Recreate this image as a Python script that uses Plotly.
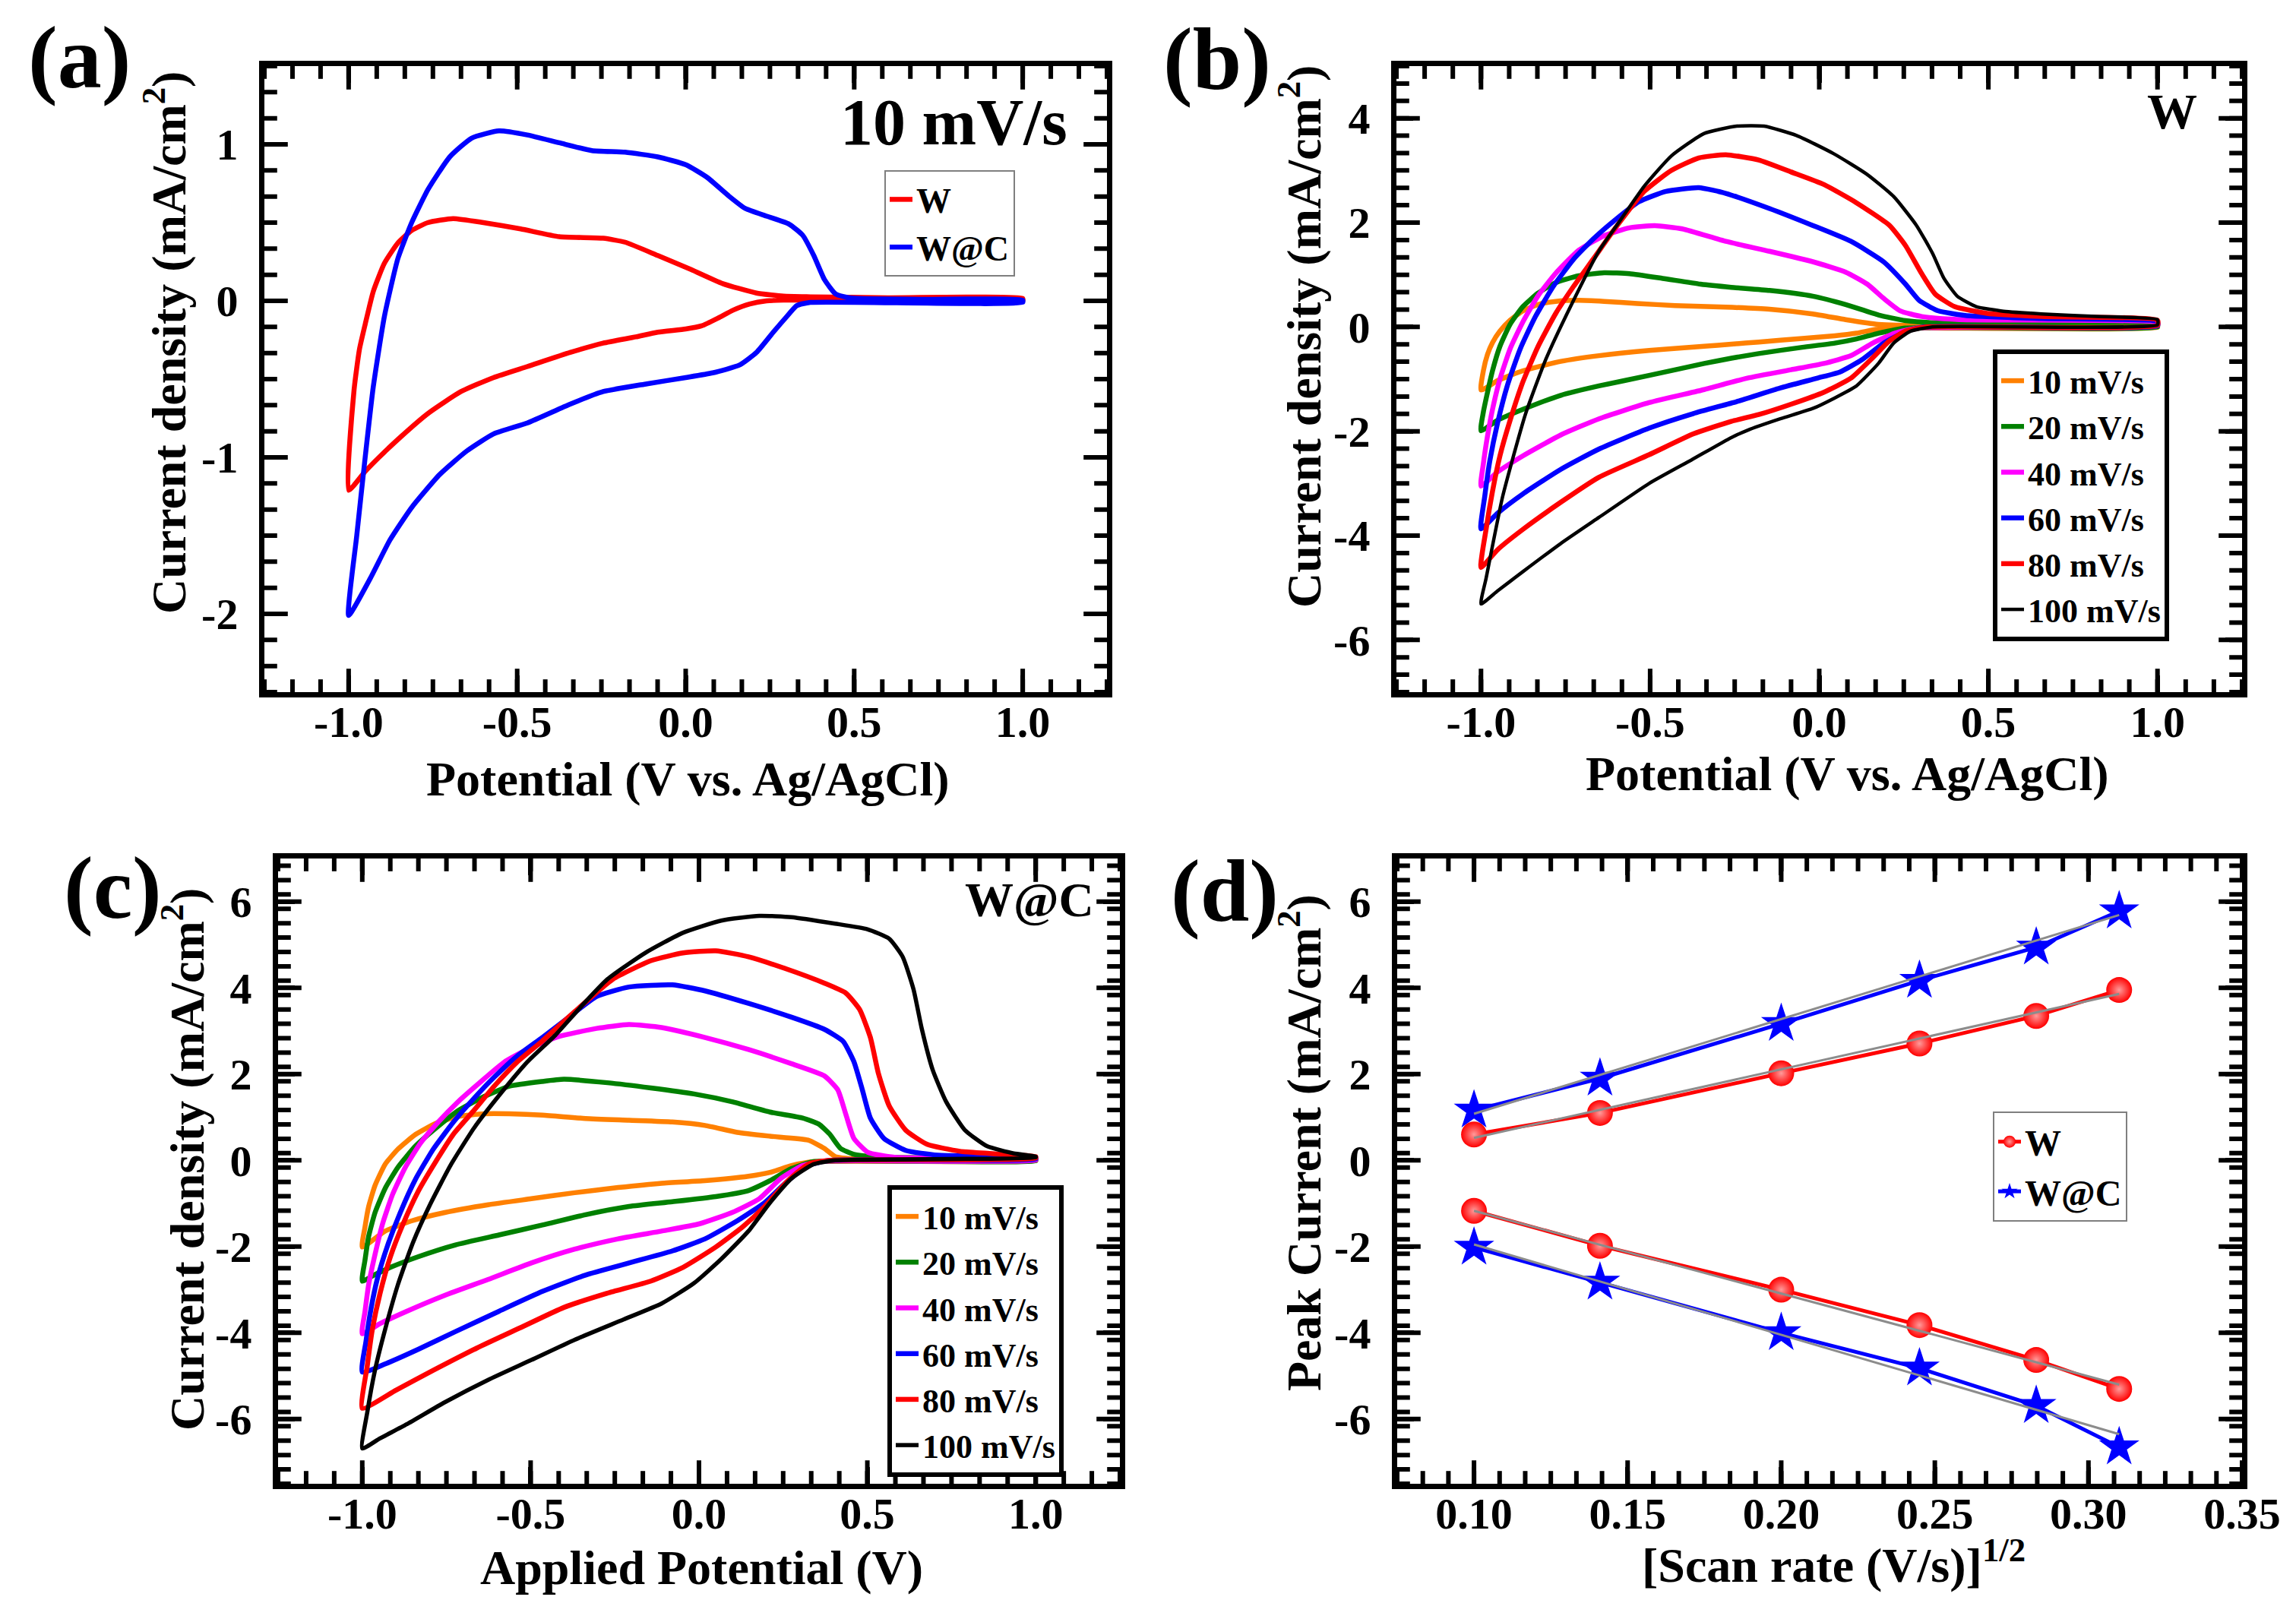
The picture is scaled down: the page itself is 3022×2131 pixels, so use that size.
import numpy as np
import plotly.graph_objects as go

FONT = "Liberation Serif"

# ---- (a) 10 mV/s : W vs W@C  (anodic sweep -1 -> 1, then cathodic 1 -> -1)
A_W_X = [-1.0, -0.984, -0.968, -0.951, -0.927, -0.894, -0.854, -0.813, -0.765, -0.69, -0.60, -0.49,
         -0.375, -0.245, -0.18, -0.083, 0.016, 0.11, 0.21, 0.29, 0.37, 0.6, 1.0,
         1.0, 0.37, 0.29, 0.24, 0.19, 0.14, 0.096, 0.047, 0.0, -0.083, -0.148, -0.245, -0.343,
         -0.47, -0.57, -0.667, -0.765, -0.846, -0.91, -0.951, -1.0]
A_W_Y = [-1.21, -0.57, -0.31, -0.15, 0.06, 0.24, 0.37, 0.45, 0.50, 0.526, 0.50, 0.46,
         0.41, 0.40, 0.375, 0.29, 0.2, 0.11, 0.05, 0.03, 0.026, 0.02, 0.016,
         0.0, 0.005, 0.005, 0.0, -0.02, -0.06, -0.11, -0.16, -0.18, -0.2, -0.23, -0.27, -0.33,
         -0.42, -0.49, -0.58, -0.72, -0.87, -1.0, -1.09, -1.21]
A_WC_X = [-1.0, -0.976, -0.951, -0.927, -0.894, -0.854, -0.813, -0.765, -0.70, -0.635, -0.554, -0.47,
          -0.375, -0.278, -0.18, -0.083, 0.0, 0.063, 0.128, 0.177, 0.242, 0.307, 0.347, 0.38,
          0.412, 0.445, 0.49, 0.7, 1.0,
          1.0, 0.37, 0.33, 0.30, 0.26, 0.21, 0.16, 0.08, 0.0, -0.115, -0.245, -0.343, -0.47,
          -0.57, -0.65, -0.73, -0.813, -0.878, -0.935, -1.0]
A_WC_Y = [-2.01, -1.5, -1.0, -0.55, -0.1, 0.27, 0.5, 0.71, 0.92, 1.04, 1.086, 1.06,
          1.01, 0.96, 0.95, 0.92, 0.87, 0.79, 0.67, 0.59, 0.54, 0.49, 0.42, 0.29,
          0.135, 0.044, 0.018, 0.01, 0.005,
          -0.01, -0.01, -0.03, -0.1, -0.2, -0.33, -0.41, -0.46, -0.49, -0.53, -0.58, -0.66, -0.78,
          -0.85, -0.96, -1.11, -1.32, -1.53, -1.77, -2.01]

# ---- (b) W at different scan rates
B10_X = [-1.0, -0.993, -0.981, -0.966, -0.944, -0.914, -0.876, -0.831, -0.779, -0.711, -0.636, -0.538,
         -0.426, -0.276, -0.147, -0.019, 0.078, 0.175, 0.335, 1.0,
         1.0, 0.255, 0.175, 0.11, 0.046, -0.05, -0.179, -0.26, -0.34, -0.503, -0.651, -0.764,
         -0.876, -0.951, -1.0]
B10_Y = [-1.21, -0.84, -0.53, -0.3, -0.08, 0.13, 0.31, 0.43, 0.49, 0.51, 0.49, 0.45,
         0.41, 0.38, 0.34, 0.25, 0.14, 0.05, 0.02, 0.02,
         -0.01, -0.02, -0.04, -0.12, -0.17, -0.22, -0.29, -0.33, -0.37, -0.45, -0.55, -0.66,
         -0.84, -1.03, -1.21]
B20_X = [-1.0, -0.993, -0.981, -0.966, -0.944, -0.914, -0.876, -0.831, -0.779, -0.711, -0.636, -0.561,
         -0.463, -0.351, -0.26, -0.147, -0.019, 0.078, 0.175, 0.255, 0.335, 1.0,
         1.0, 0.255, 0.175, 0.11, 0.046, -0.05, -0.179, -0.26, -0.34, -0.503, -0.651, -0.764,
         -0.876, -0.951, -1.0]
B20_Y = [-1.99, -1.63, -1.26, -0.84, -0.37, 0.05, 0.39, 0.65, 0.85, 0.98, 1.04, 1.02,
         0.93, 0.82, 0.76, 0.7, 0.59, 0.43, 0.23, 0.12, 0.08, 0.05,
         0.0, -0.02, -0.12, -0.23, -0.31, -0.39, -0.51, -0.6, -0.7, -0.93, -1.13, -1.31,
         -1.58, -1.79, -1.99]
B40_X = [-1.0, -0.993, -0.981, -0.966, -0.944, -0.914, -0.876, -0.831, -0.779, -0.711, -0.636, -0.561,
         -0.486, -0.405, -0.276, -0.147, -0.019, 0.078, 0.142, 0.19, 0.239, 0.303, 0.416, 1.0,
         1.0, 0.29, 0.223, 0.158, 0.094, 0.014, -0.083, -0.212, -0.34, -0.503, -0.651, -0.764,
         -0.876, -0.951, -1.0]
B40_Y = [-3.05, -2.62, -2.1, -1.58, -1.0, -0.42, 0.1, 0.6, 1.03, 1.47, 1.75, 1.9,
         1.94, 1.88, 1.64, 1.45, 1.25, 1.05, 0.82, 0.55, 0.31, 0.2, 0.14, 0.08,
         0.02, -0.02, -0.12, -0.31, -0.55, -0.7, -0.82, -0.98, -1.2, -1.45, -1.76, -2.07,
         -2.47, -2.78, -3.05]
B60_X = [-1.0, -0.989, -0.974, -0.951, -0.921, -0.884, -0.839, -0.786, -0.726, -0.666, -0.6, -0.533,
         -0.453, -0.356, -0.276, -0.147, -0.021, 0.094, 0.19, 0.255, 0.295, 0.351, 0.432, 0.657, 1.0,
         1.0, 0.31, 0.255, 0.19, 0.126, 0.062, -0.005, -0.115, -0.244, -0.372, -0.503, -0.651,
         -0.764, -0.876, -0.951, -1.0]
B60_Y = [-3.87, -3.25, -2.57, -1.84, -1.1, -0.42, 0.2, 0.78, 1.3, 1.7, 2.07, 2.4,
         2.6, 2.67, 2.56, 2.27, 1.95, 1.64, 1.25, 0.82, 0.51, 0.31, 0.22, 0.16, 0.1,
         0.02, 0.0, -0.09, -0.31, -0.63, -0.86, -0.98, -1.17, -1.43, -1.66, -1.94, -2.34,
         -2.73, -3.2, -3.57, -3.87]
B80_X = [-1.0, -0.985, -0.966, -0.944, -0.914, -0.876, -0.831, -0.779, -0.726, -0.666, -0.607, -0.517,
         -0.437, -0.356, -0.276, -0.179, -0.083, 0.014, 0.11, 0.207, 0.255, 0.303, 0.343, 0.4,
         0.496, 0.657, 1.0,
         1.0, 0.32, 0.255, 0.207, 0.158, 0.094, 0.014, -0.083, -0.179, -0.26, -0.372, -0.503,
         -0.651, -0.764, -0.876, -0.951, -1.0]
B80_Y = [-4.61, -3.88, -3.15, -2.47, -1.79, -1.05, -0.37, 0.26, 0.78, 1.32, 1.86, 2.6,
         3.0, 3.24, 3.3, 3.2, 2.97, 2.73, 2.38, 1.95, 1.56, 1.02, 0.63, 0.39,
         0.26, 0.2, 0.13,
         0.03, 0.0, -0.08, -0.27, -0.59, -0.98, -1.25, -1.48, -1.68, -1.81, -2.05, -2.45,
         -2.88, -3.36, -3.88, -4.27, -4.61]
B100_X = [-1.0, -0.985, -0.936, -0.869, -0.809, -0.734, -0.651, -0.595, -0.517, -0.437, -0.34, -0.244,
          -0.163, -0.067, 0.043, 0.14, 0.22, 0.287, 0.335, 0.368, 0.408, 0.464, 0.545, 0.657, 0.818, 1.0,
          1.0, 0.335, 0.27, 0.22, 0.175, 0.11, 0.043, -0.018, -0.115, -0.212, -0.26, -0.378,
          -0.503, -0.651, -0.764, -0.876, -0.951, -1.0]
B100_Y = [-5.31, -4.82, -3.25, -1.68, -0.63, 0.41, 1.46, 1.98, 2.7, 3.28, 3.71, 3.85,
          3.85, 3.67, 3.32, 2.93, 2.5, 1.95, 1.41, 0.94, 0.59, 0.39, 0.3, 0.25, 0.2, 0.14,
          0.04, 0.0, -0.08, -0.31, -0.7, -1.13, -1.37, -1.56, -1.76, -1.98, -2.12, -2.55,
          -3.0, -3.65, -4.15, -4.69, -5.06, -5.31]

# ---- (c) W@C at different scan rates
C10_X = [-1.0, -0.992, -0.981, -0.962, -0.932, -0.894, -0.842, -0.781, -0.714, -0.638, -0.563, -0.465,
         -0.337, -0.208, -0.079, 0.018, 0.114, 0.211, 0.324, 0.372, 0.404, 0.469, 1.0,
         1.0, 0.34, 0.275, 0.211, 0.147, 0.018, -0.111, -0.24, -0.369, -0.498, -0.626, -0.755,
         -0.852, -0.932, -1.0]
C10_Y = [-2.01, -1.55, -1.07, -0.58, -0.09, 0.26, 0.6, 0.86, 1.02, 1.08, 1.08, 1.05,
         0.97, 0.93, 0.89, 0.81, 0.65, 0.56, 0.47, 0.28, 0.09, 0.03, 0.01,
         -0.01, -0.03, -0.12, -0.28, -0.37, -0.47, -0.53, -0.63, -0.75, -0.89, -1.03, -1.21,
         -1.4, -1.64, -2.01]
C20_X = [-1.0, -0.992, -0.981, -0.962, -0.932, -0.894, -0.842, -0.781, -0.714, -0.638, -0.563, -0.465,
         -0.401, -0.272, -0.143, -0.015, 0.098, 0.211, 0.308, 0.356, 0.388, 0.42, 0.46, 0.549, 1.0,
         1.0, 0.34, 0.275, 0.211, 0.147, 0.05, -0.079, -0.208, -0.337, -0.465, -0.594, -0.723,
         -0.836, -0.916, -0.965, -1.0]
C20_Y = [-2.8, -2.32, -1.76, -1.21, -0.65, -0.16, 0.33, 0.75, 1.16, 1.48, 1.72, 1.83,
         1.88, 1.8, 1.68, 1.54, 1.36, 1.12, 0.98, 0.84, 0.61, 0.28, 0.14, 0.07, 0.03,
         -0.01, -0.03, -0.19, -0.47, -0.7, -0.84, -0.96, -1.07, -1.26, -1.5, -1.73, -1.96,
         -2.24, -2.48, -2.66, -2.8]
C40_X = [-1.0, -0.992, -0.981, -0.962, -0.94, -0.91, -0.872, -0.827, -0.774, -0.714, -0.653, -0.578,
         -0.503, -0.417, -0.304, -0.208, -0.111, 0.018, 0.147, 0.275, 0.372, 0.412, 0.436, 0.46,
         0.501, 0.581, 1.0,
         1.0, 0.372, 0.308, 0.243, 0.179, 0.098, 0.002, -0.111, -0.24, -0.369, -0.498, -0.626,
         -0.755, -0.868, -0.948, -1.0]
C40_Y = [-4.02, -3.51, -2.88, -2.18, -1.48, -0.79, -0.16, 0.4, 0.89, 1.37, 1.79, 2.28,
         2.6, 2.87, 3.06, 3.15, 3.08, 2.85, 2.57, 2.24, 1.96, 1.64, 1.07, 0.51,
         0.19, 0.07, 0.03,
         0.0, -0.02, -0.12, -0.42, -0.89, -1.21, -1.47, -1.64, -1.82, -2.06, -2.38, -2.76,
         -3.13, -3.5, -3.79, -4.02]
C60_X = [-1.0, -0.989, -0.974, -0.955, -0.925, -0.887, -0.842, -0.789, -0.729, -0.668, -0.608, -0.54,
         -0.465, -0.39, -0.304, -0.208, -0.079, 0.018, 0.147, 0.275, 0.372, 0.428, 0.46, 0.485,
         0.509, 0.549, 0.614, 0.71, 1.0,
         1.0, 0.388, 0.324, 0.259, 0.195, 0.114, 0.018, -0.079, -0.208, -0.337, -0.465, -0.594,
         -0.723, -0.836, -0.932, -1.0]
C60_Y = [-4.91, -4.2, -3.44, -2.74, -1.98, -1.21, -0.44, 0.26, 0.89, 1.44, 1.93, 2.42,
         2.85, 3.3, 3.8, 4.02, 4.07, 3.93, 3.64, 3.32, 3.04, 2.76, 2.29, 1.64,
         0.98, 0.51, 0.23, 0.12, 0.07,
         0.03, 0.0, -0.12, -0.51, -0.98, -1.4, -1.82, -2.1, -2.38, -2.66, -3.04, -3.5,
         -3.97, -4.39, -4.72, -4.91]
C80_X = [-1.0, -0.985, -0.97, -0.947, -0.917, -0.879, -0.834, -0.781, -0.729, -0.668, -0.608, -0.54,
         -0.465, -0.369, -0.256, -0.143, -0.047, 0.05, 0.147, 0.259, 0.372, 0.436, 0.477, 0.509,
         0.533, 0.565, 0.614, 0.678, 0.775, 0.903, 1.0,
         1.0, 0.388, 0.324, 0.259, 0.195, 0.13, 0.05, -0.047, -0.143, -0.272, -0.401, -0.53,
         -0.659, -0.787, -0.9, -1.0]
C80_Y = [-5.75, -4.76, -3.92, -3.08, -2.25, -1.48, -0.72, -0.02, 0.61, 1.16, 1.72, 2.28,
         2.77, 3.45, 4.2, 4.63, 4.81, 4.86, 4.72, 4.44, 4.11, 3.88, 3.5, 2.85,
         2.01, 1.26, 0.7, 0.37, 0.21, 0.14, 0.09,
         0.05, 0.0, -0.09, -0.51, -1.07, -1.54, -2.01, -2.48, -2.8, -3.08, -3.41, -3.88,
         -4.35, -4.86, -5.33, -5.75]
C100_X = [-1.0, -0.985, -0.962, -0.932, -0.894, -0.849, -0.797, -0.736, -0.668, -0.593, -0.51, -0.427,
          -0.352, -0.272, -0.16, -0.047, 0.066, 0.179, 0.275, 0.404, 0.5, 0.565, 0.605, 0.637,
          0.662, 0.694, 0.734, 0.79, 0.855, 0.935, 1.0,
          1.0, 0.404, 0.34, 0.275, 0.211, 0.147, 0.066, -0.015, -0.111, -0.224, -0.369, -0.498,
          -0.626, -0.755, -0.868, -0.948, -1.0]
C100_Y = [-6.68, -5.84, -4.86, -3.92, -2.88, -1.9, -1.0, -0.09, 0.75, 1.51, 2.28, 2.9,
          3.55, 4.2, 4.81, 5.28, 5.56, 5.67, 5.64, 5.49, 5.36, 5.14, 4.72, 3.97,
          3.04, 2.1, 1.36, 0.7, 0.33, 0.16, 0.09,
          0.07, 0.0, -0.09, -0.42, -0.98, -1.64, -2.29, -2.85, -3.32, -3.69, -4.16, -4.63,
          -5.09, -5.61, -6.12, -6.45, -6.68]

RATES = ["10 mV/s", "20 mV/s", "40 mV/s", "60 mV/s", "80 mV/s", "100 mV/s"]
RATE_COLORS = ["#ff8000", "#008000", "#ff00ff", "#0000ff", "#ff0000", "#000000"]

# ---- (d) peak current vs sqrt(scan rate)
D_X = [0.10, 0.141, 0.20, 0.245, 0.283, 0.31]
D_W_ANODIC = [0.6, 1.1, 2.02, 2.71, 3.35, 3.95]
D_WC_ANODIC = [1.16, 1.9, 3.17, 4.17, 4.94, 5.78]
D_W_CATHODIC = [-1.17, -1.98, -3.0, -3.82, -4.63, -5.3]
D_WC_CATHODIC = [-2.02, -2.83, -4.0, -4.82, -5.69, -6.65]
# linear fits (grey), end points
D_FIT_X = [0.10, 0.31]
D_W_ANODIC_FIT = [0.52, 3.86]
D_WC_ANODIC_FIT = [1.08, 5.69]
D_W_CATHODIC_FIT = [-1.17, -5.2]
D_WC_CATHODIC_FIT = [-1.95, -6.35]

# tick labels
CV_XTICKS = [-1.0, -0.5, 0.0, 0.5, 1.0]
CV_XTEXT = ["-1.0", "-0.5", "0.0", "0.5", "1.0"]
A_YTICKS = [-2, -1, 0, 1]
A_YTEXT = ["-2", "-1", "0", "1"]
B_YTICKS = [-6, -4, -2, 0, 2, 4]
B_YTEXT = ["-6", "-4", "-2", "0", "2", "4"]
C_YTICKS = [-6, -4, -2, 0, 2, 4, 6]
C_YTEXT = ["-6", "-4", "-2", "0", "2", "4", "6"]
D_XTICKS = [0.10, 0.15, 0.20, 0.25, 0.30, 0.35]
D_XTEXT = ["0.10", "0.15", "0.20", "0.25", "0.30", "0.35"]


fig = go.Figure()


def cv(x, y, color, name, n, legend, width=6.5):
    fig.add_trace(go.Scatter(
        x=x, y=y, mode="lines", name=name, legend=legend,
        xaxis="x" + n, yaxis="y" + n,
        line=dict(color=color, width=width, shape="spline", smoothing=0.5)))


cv(A_W_X, A_W_Y, "#ff0000", "W", "", "legend")
cv(A_WC_X, A_WC_Y, "#0000ff", "W@C", "", "legend")

b_curves = [(B10_X, B10_Y), (B20_X, B20_Y), (B40_X, B40_Y),
            (B60_X, B60_Y), (B80_X, B80_Y), (B100_X, B100_Y)]
c_curves = [(C10_X, C10_Y), (C20_X, C20_Y), (C40_X, C40_Y),
            (C60_X, C60_Y), (C80_X, C80_Y), (C100_X, C100_Y)]
for (x, y), name, col in zip(b_curves, RATES, RATE_COLORS):
    cv(x, y, col, name, "2", "legend2", 4.5 if col == "#000000" else 6.5)
for (x, y), name, col in zip(c_curves, RATES, RATE_COLORS):
    cv(x, y, col, name, "3", "legend3", 5.5 if col == "#000000" else 6.5)

# (d)
w_marker = dict(symbol="circle", size=34, color="#ff0000",
                gradient=dict(type="radial", color="#ff9a9a"), line=dict(width=0))
wc_marker = dict(symbol="star", size=40, color="#0000ff", line=dict(width=0))
for y, show in [(D_W_ANODIC, True), (D_W_CATHODIC, False)]:
    fig.add_trace(go.Scatter(x=D_X, y=y, mode="lines+markers", name="W", showlegend=show,
                             legend="legend4", legendgroup="W", xaxis="x4", yaxis="y4",
                             line=dict(color="#ff0000", width=5), marker=w_marker))
for y, show in [(D_WC_ANODIC, True), (D_WC_CATHODIC, False)]:
    fig.add_trace(go.Scatter(x=D_X, y=y, mode="lines+markers", name="W@C", showlegend=show,
                             legend="legend4", legendgroup="WC", xaxis="x4", yaxis="y4",
                             line=dict(color="#0000ff", width=5), marker=wc_marker))
for y in [D_W_ANODIC_FIT, D_WC_ANODIC_FIT, D_W_CATHODIC_FIT, D_WC_CATHODIC_FIT]:
    fig.add_trace(go.Scatter(x=D_FIT_X, y=y, mode="lines", showlegend=False,
                             xaxis="x4", yaxis="y4", line=dict(color="#8c8c8c", width=3)))


# Origin-style comb ticks on all four sides (major + 5 minor per interval),
# drawn as clipped line markers sitting on the frame
def comb(n, xr, yr, xmaj, ymaj, xstep, ystep):
    xs = np.arange(xr[0], xr[1] + xstep / 2, xstep)
    ys = np.arange(yr[0], yr[1] + ystep / 2, ystep)
    for vals, length in [(xs, 12), (xmaj, 22)]:
        vals = list(vals)
        fig.add_trace(go.Scatter(
            x=vals * 2, y=[yr[0]] * len(vals) + [yr[1]] * len(vals), mode="markers",
            xaxis="x" + n, yaxis="y" + n, showlegend=False, hoverinfo="skip",
            marker=dict(symbol="line-ns", size=2 * length, color="black",
                        line=dict(width=6, color="black"))))
    for vals, length in [(ys, 12), (ymaj, 22)]:
        vals = list(vals)
        fig.add_trace(go.Scatter(
            x=[xr[0]] * len(vals) + [xr[1]] * len(vals), y=vals * 2, mode="markers",
            xaxis="x" + n, yaxis="y" + n, showlegend=False, hoverinfo="skip",
            marker=dict(symbol="line-ew", size=2 * length, color="black",
                        line=dict(width=6, color="black"))))


CV_XR = [-1.25, 1.25]
A_YR, B_YR, C_YR, D_XR = [-2.5, 1.5], [-7, 5], [-7.5, 7], [0.075, 0.35]
comb("", CV_XR, A_YR, CV_XTICKS, A_YTICKS, 0.5 / 6, 1 / 6)
comb("2", CV_XR, B_YR, CV_XTICKS, B_YTICKS, 0.5 / 6, 2 / 6)
comb("3", CV_XR, C_YR, CV_XTICKS, C_YTICKS, 0.5 / 6, 2 / 6)
comb("4", D_XR, C_YR, D_XTICKS, C_YTICKS, 0.05 / 6, 2 / 6)


def tfont(size):
    return dict(family=FONT, size=size, color="black", weight="bold")


def axis(domain, rng, vals, text, anchor, lab_off):
    return dict(
        domain=domain, range=rng, anchor=anchor,
        tickmode="array", tickvals=vals, ticktext=text,
        ticks="inside", ticklen=22, tickwidth=6, tickcolor="black",
        showline=True, linewidth=7, linecolor="black", mirror="ticks",
        showgrid=False, zeroline=False, automargin=False,
        tickfont=tfont(58), ticklabelstandoff=lab_off)


W, H = 3022, 2131
XA = [340 / W, 1449 / W]
XB = [1830 / W, 2943 / W]
XC = [358 / W, 1466 / W]
XD = [1831 / W, 2943 / W]
YTOP = [1 - 903 / H, 1 - 79 / H]
YBOT = [1 - 1945 / H, 1 - 1122 / H]


def legend_box(x, y, border, bw, size):
    return dict(x=x / W, y=1 - y / H, xanchor="left", yanchor="top", bgcolor="white",
                bordercolor=border, borderwidth=bw, font=tfont(size),
                itemwidth=30, tracegroupgap=0)


fig.update_layout(
    width=W, height=H, margin=dict(l=0, r=0, t=0, b=0),
    paper_bgcolor="white", plot_bgcolor="white",
    xaxis=axis(XA, CV_XR, CV_XTICKS, CV_XTEXT, "y", -18),
    yaxis=axis(YTOP, A_YR, A_YTICKS, A_YTEXT, "x", 16),
    xaxis2=axis(XB, CV_XR, CV_XTICKS, CV_XTEXT, "y2", -18),
    yaxis2=axis(YTOP, B_YR, B_YTICKS, B_YTEXT, "x2", 16),
    xaxis3=axis(XC, CV_XR, CV_XTICKS, CV_XTEXT, "y3", -18),
    yaxis3=axis(YBOT, C_YR, C_YTICKS, C_YTEXT, "x3", 16),
    xaxis4=axis(XD, D_XR, D_XTICKS, D_XTEXT, "y4", -18),
    yaxis4=axis(YBOT, C_YR, C_YTICKS, C_YTEXT, "x4", 16),
    legend=legend_box(1156, 216, "#7f7f7f", 2, 46),
    legend2=legend_box(2615, 452, "black", 6, 44),
    legend3=legend_box(1160, 1552, "black", 6, 44),
    legend4=legend_box(2615, 1455, "#7f7f7f", 2, 48),
)

cd = "Current density (mA/cm<sup>2</sup>)"
# axis titles: (text, x, y, angle)
titles = [("Potential (V vs. Ag/AgCl)", 898, 1018, 0), ("Potential (V vs. Ag/AgCl)", 2423, 1010, 0),
          ("Applied Potential (V)", 915, 2055, 0), ("[Scan rate (V/s)]<sup>1/2</sup>", 2405, 2047, 0),
          (cd, 209, 443, -90), (cd, 1703, 435, -90), (cd, 233, 1518, -90),
          ("Peak Current (mA/cm<sup>2</sup>)", 1703, 1496, -90)]
for text, x, y, ang in titles:
    fig.add_annotation(text=text, x=x / W, y=1 - y / H, xref="paper", yref="paper",
                       showarrow=False, textangle=ang, xanchor="center", yanchor="middle",
                       font=tfont(64))

notes = [("(a)", 96, 68, 116), ("(b)", 1594, 70, 116), ("(c)", 140, 1161, 116),
         ("(d)", 1604, 1165, 116), ("10 mV/s", 1247, 153, 86), ("W", 2851, 138, 66),
         ("W@C", 1347, 1176, 64)]
for text, x, y, size in notes:
    fig.add_annotation(text=text, x=x / W, y=1 - y / H, xref="paper", yref="paper",
                       showarrow=False, xanchor="center", yanchor="middle", font=tfont(size))

fig.write_html("out.html")
